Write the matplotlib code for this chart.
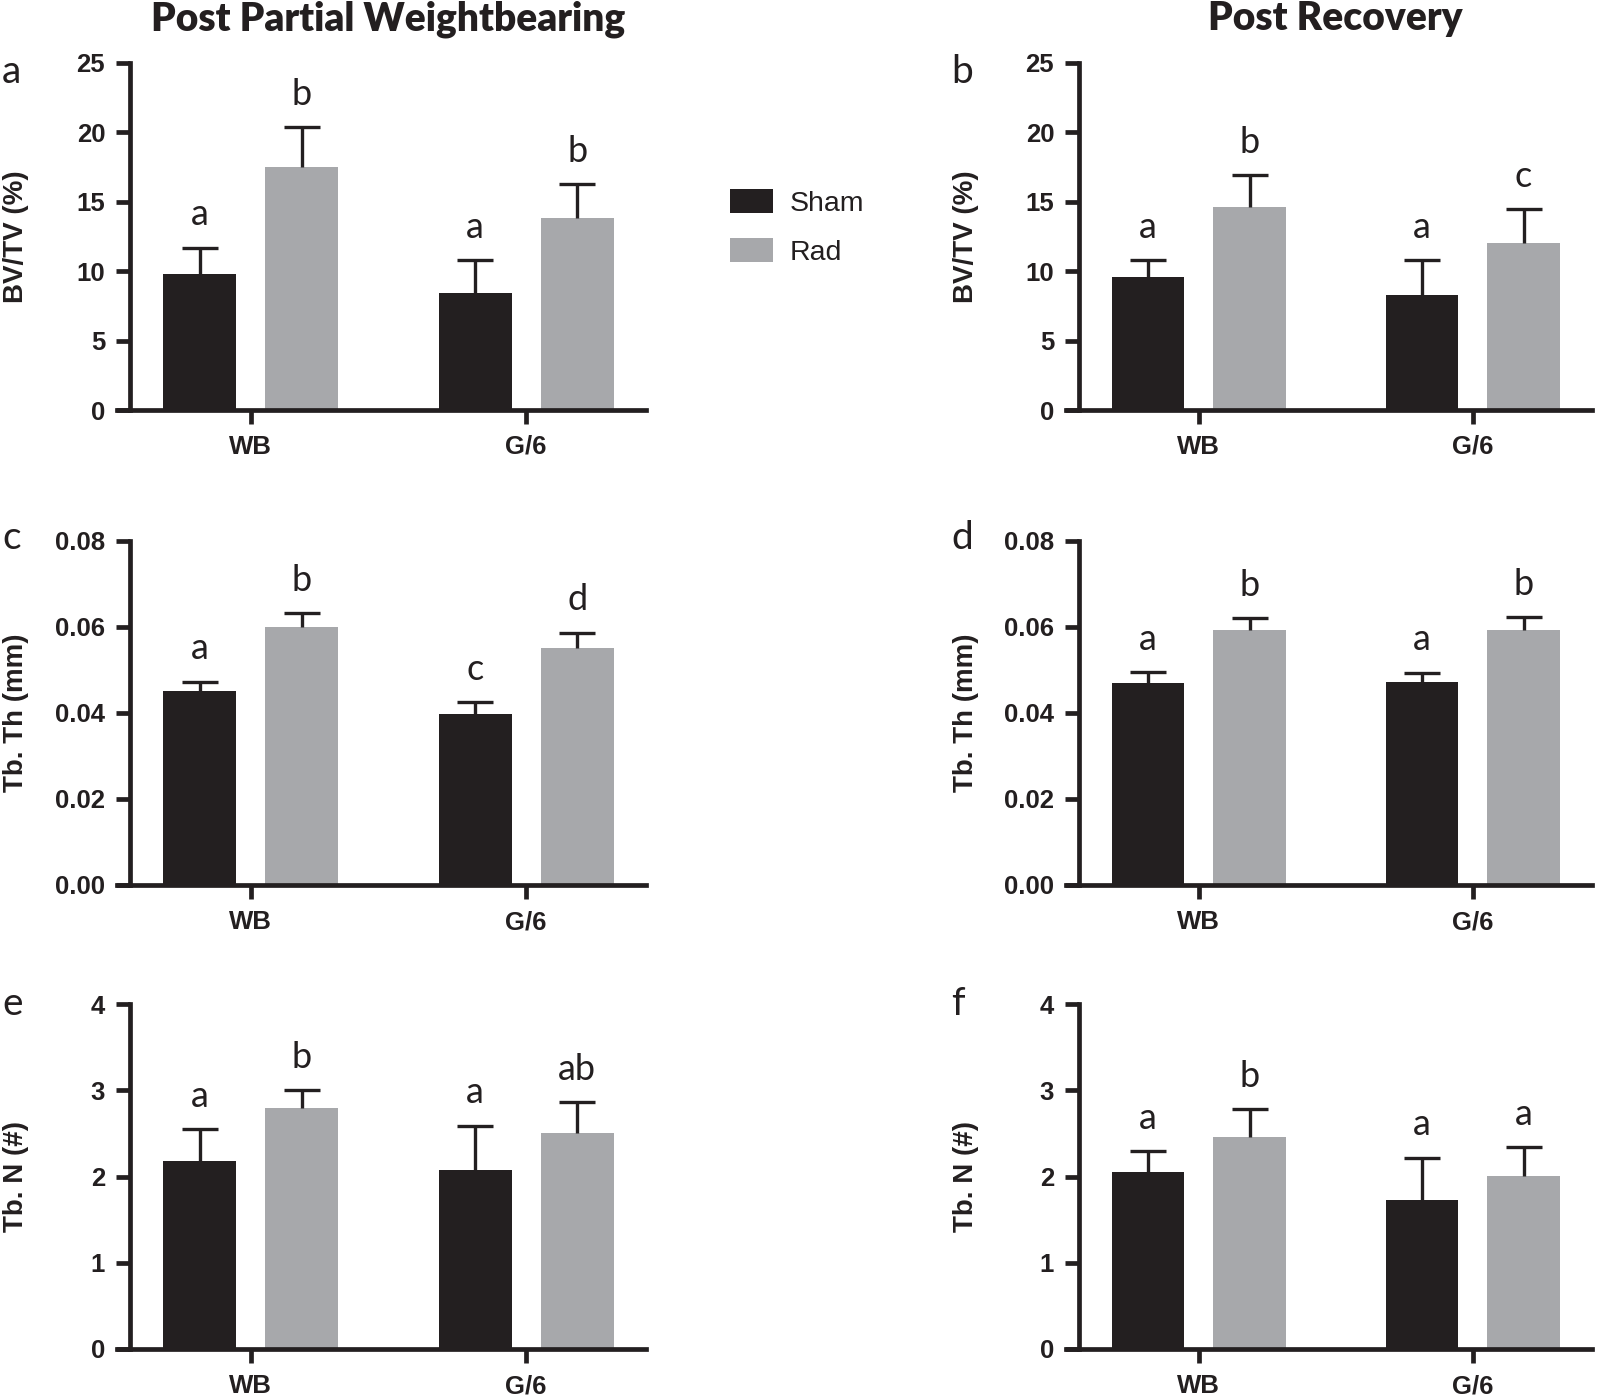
import matplotlib
matplotlib.use("Agg")
import matplotlib.pyplot as plt
from matplotlib.ticker import FormatStrFormatter

# ---- data ----
groups = ["WB", "G/6"]
series = ["Sham", "Rad"]

bvtv_pwb_mean = [[9.8, 8.4], [17.5, 13.8]]
bvtv_pwb_err = [[1.9, 2.4], [2.9, 2.5]]
bvtv_pwb_letters = [["a", "a"], ["b", "b"]]

bvtv_rec_mean = [[9.6, 8.3], [14.6, 12.0]]
bvtv_rec_err = [[1.2, 2.5], [2.3, 2.5]]
bvtv_rec_letters = [["a", "a"], ["b", "c"]]

tbth_pwb_mean = [[0.0450, 0.0397], [0.0600, 0.0550]]
tbth_pwb_err = [[0.0023, 0.0029], [0.0032, 0.0037]]
tbth_pwb_letters = [["a", "c"], ["b", "d"]]

tbth_rec_mean = [[0.0470, 0.0473], [0.0594, 0.0593]]
tbth_rec_err = [[0.0025, 0.0021], [0.0027, 0.0030]]
tbth_rec_letters = [["a", "a"], ["b", "b"]]

tbn_pwb_mean = [[2.18, 2.08], [2.79, 2.51]]
tbn_pwb_err = [[0.37, 0.51], [0.21, 0.35]]
tbn_pwb_letters = [["a", "a"], ["b", "ab"]]

tbn_rec_mean = [[2.05, 1.73], [2.46, 2.01]]
tbn_rec_err = [[0.24, 0.49], [0.32, 0.33]]
tbn_rec_letters = [["a", "a"], ["b", "a"]]

colors = ["#231f20", "#a7a8ab"]
ink = "#231f20"

W, H = 1598, 1396
fig = plt.figure(figsize=(W / 100, H / 100), dpi=100)

num_font = ["Liberation Sans Narrow", "Liberation Sans", "DejaVu Sans"]
let_font = ["Lato", "DejaVu Sans"]


def px_axes(x0, x1, y0, y1):
    return fig.add_axes([x0 / W, 1 - y1 / H, (x1 - x0) / W, (y1 - y0) / H])


def panel(ax, means, errs, letters, ylim, step, ylabel, fmt):
    width = 0.265
    offs = [-0.185, 0.185]
    xs = [0, 1]
    bars = []
    for i in range(2):
        pos = [x + offs[i] for x in xs]
        b = ax.bar(pos, means[i], width=width, color=colors[i], label=series[i], zorder=2)
        bars.append(b)
        eb = ax.errorbar(pos, means[i], yerr=[[0, 0], errs[i]], fmt="none", ecolor=ink,
                         elinewidth=2.4, capsize=13, capthick=2.4, zorder=3)
        # only the upper cap, like the original
        eb[1][0].set_visible(False)
        for p, m, e, t in zip(pos, means[i], errs[i], letters[i]):
            ax.annotate(t, xy=(p, m + e), xytext=(0, 16), textcoords="offset points",
                        ha="center", va="baseline", fontsize=26, family=let_font, color=ink)
    ax.set_xlim(-0.485, 1.435)
    ax.set_ylim(0, ylim)
    ax.set_yticks([k * step for k in range(int(round(ylim / step)) + 1)])
    ax.yaxis.set_major_formatter(FormatStrFormatter(fmt))
    ax.set_xticks(xs)
    ax.set_xticklabels(groups)
    for s in ["top", "right"]:
        ax.spines[s].set_visible(False)
    ax.spines["left"].set_position(("data", -0.437))
    ax.spines["left"].set_bounds(0, ylim)
    for s in ["left", "bottom"]:
        ax.spines[s].set_linewidth(3.4)
        ax.spines[s].set_color(ink)
    ax.tick_params(axis="both", width=3.4, length=10, color=ink, labelcolor=ink,
                   labelsize=18.5, pad=8)
    for lab in ax.get_xticklabels() + ax.get_yticklabels():
        lab.set_family(num_font)
        lab.set_fontweight("bold")
    ax.set_ylabel(ylabel, fontsize=20, fontweight="bold", family=["Liberation Sans", "DejaVu Sans"],
                  color=ink)
    ax.yaxis.label.set_va("center")
    ax.yaxis.set_label_coords(-0.191, 0.5)
    ax.patch.set_alpha(0)
    return bars


rows = [(63, 410), (541, 885), (1004, 1349)]
cols = [(117, 646), (1066, 1592)]

specs = [
    (0, 0, "a", bvtv_pwb_mean, bvtv_pwb_err, bvtv_pwb_letters, 25, 5, "BV/TV (%)", "%d"),
    (0, 1, "b", bvtv_rec_mean, bvtv_rec_err, bvtv_rec_letters, 25, 5, "BV/TV (%)", "%d"),
    (1, 0, "c", tbth_pwb_mean, tbth_pwb_err, tbth_pwb_letters, 0.08, 0.02, "Tb. Th (mm)", "%.2f"),
    (1, 1, "d", tbth_rec_mean, tbth_rec_err, tbth_rec_letters, 0.08, 0.02, "Tb. Th (mm)", "%.2f"),
    (2, 0, "e", tbn_pwb_mean, tbn_pwb_err, tbn_pwb_letters, 4, 1, "Tb. N (#)", "%d"),
    (2, 1, "f", tbn_rec_mean, tbn_rec_err, tbn_rec_letters, 4, 1, "Tb. N (#)", "%d"),
]
letter_base = [83, 549, 1015]

handles = None
for r, c, tag, m, e, lt, yl, st, lab, fmt in specs:
    x0, x1 = cols[c]
    y0, y1 = rows[r]
    ax = px_axes(x0, x1, y0, y1)
    b = panel(ax, m, e, lt, yl, st, lab, fmt)
    if handles is None:
        handles = b
    fig.text((x0 - 115) / W, 1 - letter_base[r] / H, tag, fontsize=28, family=let_font,
             color=ink, ha="left", va="baseline")

fig.text(388 / W, 1 - 30 / H, "Post Partial Weightbearing", fontsize=28, fontweight="heavy",
         family=let_font, color=ink, ha="center", va="baseline")
fig.text(1335 / W, 1 - 30 / H, "Post Recovery", fontsize=28, fontweight="heavy",
         family=let_font, color=ink, ha="center", va="baseline")

leg = fig.legend(handles=handles, labels=series, loc="upper left",
                 bbox_to_anchor=(716 / W, 1 - 175 / H), frameon=False, borderpad=0,
                 handlelength=1.5, handleheight=0.9, handletextpad=0.6,
                 labelspacing=0.75, prop={"family": ["Liberation Sans", "DejaVu Sans"], "size": 20.5})
for t in leg.get_texts():
    t.set_color(ink)

fig.savefig("out.png", dpi=100)
